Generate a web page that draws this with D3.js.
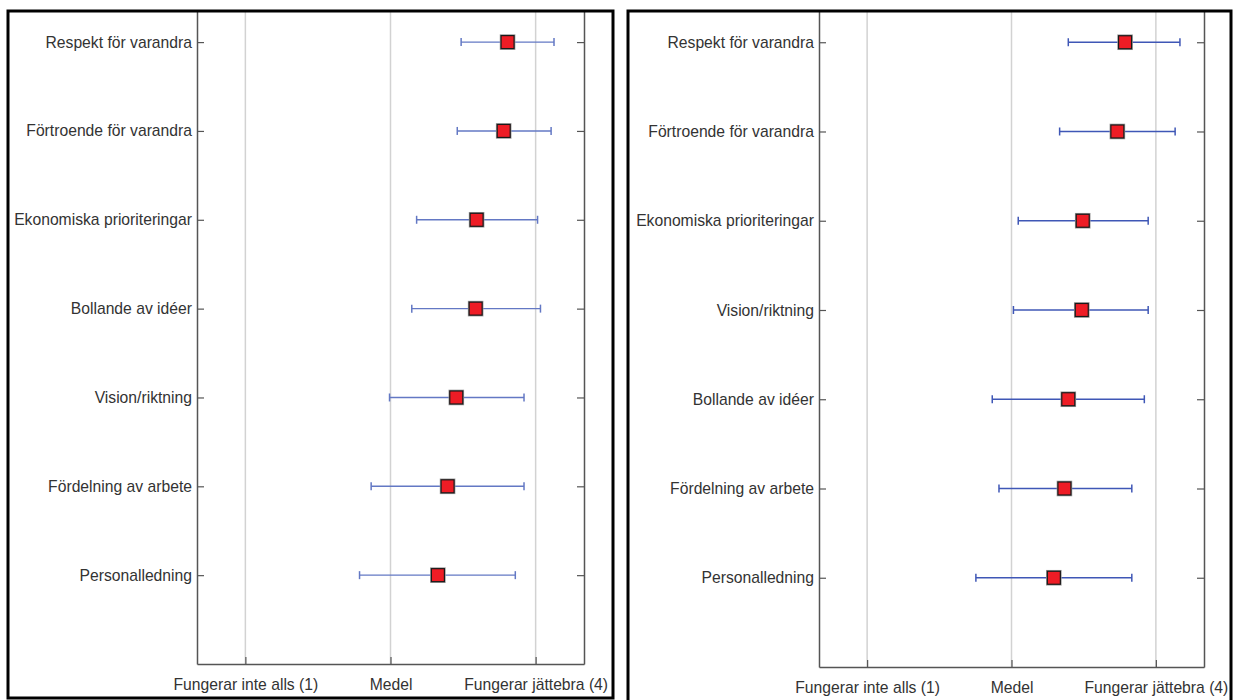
<!DOCTYPE html>
<html>
<head>
<meta charset="utf-8">
<script src="https://cdn.jsdelivr.net/npm/d3@7"></script>
<style>
  html, body { margin: 0; padding: 0; background: #fff; }
  svg { display: block; }
  text { font-family: "Liberation Sans", Arial, sans-serif; }
</style>
</head>
<body>
<svg id="chart" width="1233" height="700"></svg>
<script>
// Rating scale ticks shared by both panels
const tickValues = [1, 2.5, 4];
const tickLabels = ["Fungerar inte alls (1)", "Medel", "Fungerar jättebra (4)"];

// Left panel: categories top to bottom, mean and interval ends
const categoriesLeft = [
  "Respekt för varandra",
  "Förtroende för varandra",
  "Ekonomiska prioriteringar",
  "Bollande av idéer",
  "Vision/riktning",
  "Fördelning av arbete",
  "Personalledning"
];
const meansLeft = [3.71, 3.67, 3.39, 3.38, 3.18, 3.09, 2.99];
const lowLeft   = [3.23, 3.19, 2.77, 2.72, 2.49, 2.30, 2.18];
const highLeft  = [4.19, 4.16, 4.02, 4.05, 3.88, 3.88, 3.79];

// Right panel
const categoriesRight = [
  "Respekt för varandra",
  "Förtroende för varandra",
  "Ekonomiska prioriteringar",
  "Vision/riktning",
  "Bollande av idéer",
  "Fördelning av arbete",
  "Personalledning"
];
const meansRight = [3.68, 3.60, 3.24, 3.23, 3.09, 3.05, 2.94];
const lowRight   = [3.09, 3.00, 2.57, 2.52, 2.30, 2.37, 2.13];
const highRight  = [4.25, 4.20, 3.92, 3.92, 3.88, 3.75, 3.75];

const svg = d3.select("#chart");
const fontSize = "15.7px";

function drawPanel(opt) {
  const g = svg.append("g");
  const rows = opt.categories.map((c, i) => ({
    name: c, mean: opt.means[i], lo: opt.lows[i], hi: opt.highs[i],
    k: opt.categories.length - i
  }));

  const x = d3.scaleLinear().domain([0.5, 4.5]).range([opt.left, opt.right]);
  const y = d3.scaleLinear().domain([0, 7.35]).range([opt.bottom, opt.top]);

  // vertical grid lines at scale anchors
  g.selectAll("line.grid").data(tickValues).join("line")
    .attr("x1", d => x(d)).attr("x2", d => x(d))
    .attr("y1", opt.top).attr("y2", opt.bottom)
    .attr("stroke", "#d2d2d2").attr("stroke-width", 1.5);

  // bottom axis with inward ticks
  const xAxis = d3.axisBottom(x).tickValues(tickValues)
    .tickFormat((d, i) => tickLabels[i]).tickSizeInner(-7).tickSizeOuter(0).tickPadding(15);
  const gx = g.append("g").attr("transform", `translate(0,${opt.bottom})`).call(xAxis);
  gx.select(".domain").attr("stroke", "#555").attr("stroke-width", 1.5);
  gx.selectAll(".tick line").attr("stroke", "#555").attr("stroke-width", 1.2);
  gx.selectAll(".tick text").attr("fill", "#333").style("font-size", fontSize);

  // left axis with category labels, ticks pointing inward
  const yAxis = d3.axisLeft(y).tickValues(rows.map(r => r.k))
    .tickFormat(k => rows.find(r => r.k === k).name)
    .tickSizeInner(-7).tickSizeOuter(0).tickPadding(5);
  const gy = g.append("g").attr("transform", `translate(${opt.left},0)`).call(yAxis);
  gy.select(".domain").attr("stroke", "#555").attr("stroke-width", 1.5);
  gy.selectAll(".tick line").attr("stroke", "#555").attr("stroke-width", 1.2);
  gy.selectAll(".tick text").attr("fill", "#333").style("font-size", fontSize);

  // right axis line with inward ticks, no labels
  const yAxisR = d3.axisRight(y).tickValues(rows.map(r => r.k))
    .tickFormat("").tickSizeInner(-7).tickSizeOuter(0);
  const gyr = g.append("g").attr("transform", `translate(${opt.right},0)`).call(yAxisR);
  gyr.select(".domain").attr("stroke", "#555").attr("stroke-width", 1.5);
  gyr.selectAll(".tick line").attr("stroke", "#555").attr("stroke-width", 1.2);

  // interval bars
  const bars = g.selectAll("g.bar").data(rows).join("g").attr("class", "bar");
  bars.append("line")
    .attr("x1", d => x(d.lo)).attr("x2", d => x(d.hi))
    .attr("y1", d => y(d.k)).attr("y2", d => y(d.k))
    .attr("stroke", opt.barColor).attr("stroke-width", 1.4);
  bars.append("line")
    .attr("x1", d => x(d.lo)).attr("x2", d => x(d.lo))
    .attr("y1", d => y(d.k) - 4).attr("y2", d => y(d.k) + 4)
    .attr("stroke", opt.barColor).attr("stroke-width", 1.5);
  bars.append("line")
    .attr("x1", d => x(d.hi)).attr("x2", d => x(d.hi))
    .attr("y1", d => y(d.k) - 4).attr("y2", d => y(d.k) + 4)
    .attr("stroke", opt.barColor).attr("stroke-width", 1.5);

  // mean markers: red squares with a soft grey halo
  const s = 13;
  bars.append("rect")
    .attr("x", d => x(d.mean) - s / 2).attr("y", d => y(d.k) - s / 2)
    .attr("width", s).attr("height", s)
    .attr("fill", "none").attr("stroke", "#9a9a9a").attr("stroke-width", 2.6);
  bars.append("rect")
    .attr("x", d => x(d.mean) - s / 2).attr("y", d => y(d.k) - s / 2)
    .attr("width", s).attr("height", s)
    .attr("fill", "#ee1c25").attr("stroke", "#1a1a1a").attr("stroke-width", 1.2);

  // panel frame
  svg.append("rect")
    .attr("x", opt.frame[0]).attr("y", opt.frame[1])
    .attr("width", opt.frame[2]).attr("height", opt.frame[3])
    .attr("fill", "none").attr("stroke", "#000").attr("stroke-width", 3);
}

drawPanel({
  categories: categoriesLeft, means: meansLeft, lows: lowLeft, highs: highLeft,
  left: 197, right: 584, top: 11, bottom: 664,
  barColor: "#6378c4",
  frame: [8, 11, 605, 687]
});

drawPanel({
  categories: categoriesRight, means: meansRight, lows: lowRight, highs: highRight,
  left: 819, right: 1204, top: 11, bottom: 667,
  barColor: "#3f57b6",
  frame: [628, 11, 603, 700]
});
</script>
</body>
</html>
